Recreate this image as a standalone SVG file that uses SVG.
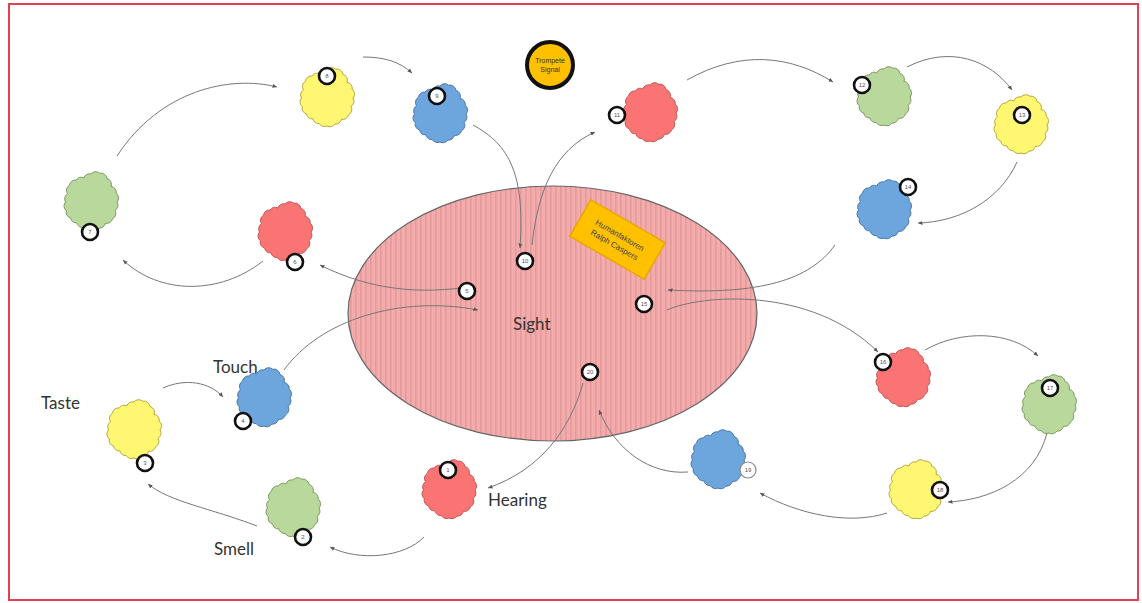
<svg xmlns="http://www.w3.org/2000/svg" width="1142" height="603" viewBox="0 0 1142 603">
<style>
.conn{fill:none;stroke:#777;stroke-width:1}
.badge{fill:#fff;stroke:#111;stroke-width:2.6}
.bt{font-family:"Liberation Sans",Arial,sans-serif;font-size:6px;fill:#555;text-anchor:middle}
.lbl{font-family:Lato,"Open Sans",sans-serif;font-size:17px;fill:#333}
.red{fill:#fa7474;stroke:#c05858;stroke-width:1}
.green{fill:#b8d99b;stroke:#7d9a62;stroke-width:1}
.yellow{fill:#fff672;stroke:#b5a83a;stroke-width:1}
.blue{fill:#6ca6dc;stroke:#4b78a6;stroke-width:1}
</style>
<defs>
<path id="cloud" d="M26,0 A6,6 0 0 1 24,8.4 A6,6 0 0 1 21.5,16.8 A6,6 0 0 1 14.4,21.3 A6,6 0 0 1 7.9,26.1 A6,6 0 0 1 0,28 A6,6 0 0 1 -7.7,25.6 A6,6 0 0 1 -14.1,20.8 A6,6 0 0 1 -20.4,16 A6,6 0 0 1 -24.7,8.7 A6,6 0 0 1 -25.5,0 A6,6 0 0 1 -23.5,-8.2 A6,6 0 0 1 -21.5,-16.8 A6,6 0 0 1 -14.8,-22 A6,6 0 0 1 -7.2,-24 A6,6 0 0 1 0,-28 A6,6 0 0 1 8.7,-28.8 A6,6 0 0 1 15.9,-23.6 A6,6 0 0 1 20,-15.6 A6,6 0 0 1 25.2,-8.8 A6,6 0 0 1 26,0 Z"/>
<pattern id="stripes" width="5" height="10" patternUnits="userSpaceOnUse">
<rect width="5" height="10" fill="#f4abab"/>
<rect width="1.6" height="10" fill="#e49a9a"/>
</pattern>
<marker id="arr" markerWidth="5" markerHeight="5" refX="4.5" refY="2.5" orient="auto" markerUnits="userSpaceOnUse">
<path d="M0,0.5 L4.5,2.5 L0,4.5 Z" fill="#555"/>
</marker>
</defs>
<rect x="9" y="4" width="1129" height="596" fill="#fff" stroke="#e04050" stroke-width="2"/>

<g id="sight">
<ellipse cx="552.5" cy="313.5" rx="204.5" ry="127.5" fill="url(#stripes)" stroke="#666" stroke-width="1.2"/>
<text class="lbl" x="513" y="330">Sight</text>
</g>

<g id="note">
<g transform="translate(617.5,239.5) rotate(30)">
<rect x="-43" y="-21" width="86" height="42" fill="#ffc000" stroke="#e6a800" stroke-width="1.5"/>
<text x="0" y="-2" font-family="'Liberation Sans',Arial,sans-serif" font-size="8" fill="#444" text-anchor="middle">Humanfaktoren</text>
<text x="0" y="9" font-family="'Liberation Sans',Arial,sans-serif" font-size="8" fill="#444" text-anchor="middle">Ralph Caspers</text>
</g>
</g>

<g id="signal">
<circle cx="550" cy="65" r="23" fill="#ffc000" stroke="#111" stroke-width="4"/>
<text x="550" y="63" font-family="'Liberation Sans',Arial,sans-serif" font-size="7" fill="#333" text-anchor="middle">Trompete</text>
<text x="550" y="72" font-family="'Liberation Sans',Arial,sans-serif" font-size="7" fill="#333" text-anchor="middle">Signal</text>
</g>

<g id="connectors">
<path class="conn" marker-end="url(#arr)" d="M583,383 C570,430 540,470 488,488"/>
<path class="conn" marker-end="url(#arr)" d="M424,537 C405,557 360,562 330,547"/>
<path class="conn" marker-end="url(#arr)" d="M257,526 C210,508 170,502 148,484"/>
<path class="conn" marker-end="url(#arr)" d="M163,388 C185,378 210,382 223,397"/>
<path class="conn" marker-end="url(#arr)" d="M284,370 C320,320 400,295 478,310"/>
<path class="conn" marker-end="url(#arr)" d="M475,286 C420,295 370,290 320,265"/>
<path class="conn" marker-end="url(#arr)" d="M263,261 C220,295 160,295 123,260"/>
<path class="conn" marker-end="url(#arr)" d="M117,156 C160,90 230,75 277,87"/>
<path class="conn" marker-end="url(#arr)" d="M363,57 C385,57 400,62 412,73"/>
<path class="conn" marker-end="url(#arr)" d="M473,125 C510,145 525,175 520,248"/>
<path class="conn" marker-end="url(#arr)" d="M532,245 C538,190 555,150 595,132"/>
<path class="conn" marker-end="url(#arr)" d="M687,80 C740,50 790,55 833,82"/>
<path class="conn" marker-end="url(#arr)" d="M907,67 C950,45 990,60 1012,90"/>
<path class="conn" marker-end="url(#arr)" d="M1017,162 C1000,200 960,222 918,223"/>
<path class="conn" marker-end="url(#arr)" d="M835,245 C810,280 760,295 668,290"/>
<path class="conn" marker-end="url(#arr)" d="M667,310 C700,295 810,285 878,352"/>
<path class="conn" marker-end="url(#arr)" d="M925,350 C960,330 1010,330 1038,356"/>
<path class="conn" marker-end="url(#arr)" d="M1047,433 C1035,480 990,500 948,502"/>
<path class="conn" marker-end="url(#arr)" d="M887,513 C850,525 800,515 760,493"/>
<path class="conn" marker-end="url(#arr)" d="M688,472 C650,475 615,450 599,410"/>
</g>

<g id="n1"><use href="#cloud" class="red" transform="translate(449,490)"/><circle class="badge" cx="448" cy="470" r="8"/><text class="bt" x="448" y="472">1</text><text class="lbl" x="488" y="506">Hearing</text></g>
<g id="n2"><use href="#cloud" class="green" transform="translate(293,508)"/><circle class="badge" cx="303" cy="537" r="8"/><text class="bt" x="303" y="539">2</text><text class="lbl" x="214" y="555">Smell</text></g>
<g id="n3"><use href="#cloud" class="yellow" transform="translate(134,430)"/><circle class="badge" cx="145" cy="463" r="8"/><text class="bt" x="145" y="465">3</text><text class="lbl" x="41" y="409">Taste</text></g>
<g id="n4"><use href="#cloud" class="blue" transform="translate(264,398)"/><circle class="badge" cx="243" cy="421" r="8"/><text class="bt" x="243" y="423">4</text><text class="lbl" x="213" y="373">Touch</text></g>
<g id="n5"><circle class="badge" cx="467" cy="291" r="8"/><text class="bt" x="467" y="293">5</text></g>
<g id="n6"><use href="#cloud" class="red" transform="translate(285,232)"/><circle class="badge" cx="295" cy="262" r="8"/><text class="bt" x="295" y="264">6</text></g>
<g id="n7"><use href="#cloud" class="green" transform="translate(91,202)"/><circle class="badge" cx="90" cy="232" r="8"/><text class="bt" x="90" y="234">7</text></g>
<g id="n8"><use href="#cloud" class="yellow" transform="translate(327,98)"/><circle class="badge" cx="327" cy="76" r="8"/><text class="bt" x="327" y="78">8</text></g>
<g id="n9"><use href="#cloud" class="blue" transform="translate(440,114)"/><circle class="badge" cx="437" cy="96" r="8"/><text class="bt" x="437" y="98">9</text></g>
<g id="n10"><circle class="badge" cx="525" cy="261" r="8"/><text class="bt" x="525" y="263">10</text></g>
<g id="n11"><use href="#cloud" class="red" transform="translate(650,113)"/><circle class="badge" cx="617" cy="115" r="8"/><text class="bt" x="617" y="117">11</text></g>
<g id="n12"><use href="#cloud" class="green" transform="translate(884,97)"/><circle class="badge" cx="862" cy="85" r="8"/><text class="bt" x="862" y="87">12</text></g>
<g id="n13"><use href="#cloud" class="yellow" transform="translate(1021,125)"/><circle class="badge" cx="1022" cy="115" r="8"/><text class="bt" x="1022" y="117">13</text></g>
<g id="n14"><use href="#cloud" class="blue" transform="translate(884,210)"/><circle class="badge" cx="908" cy="187" r="8"/><text class="bt" x="908" y="189">14</text></g>
<g id="n15"><circle class="badge" cx="644" cy="304" r="8"/><text class="bt" x="644" y="306">15</text></g>
<g id="n16"><use href="#cloud" class="red" transform="translate(903,378)"/><circle class="badge" cx="883" cy="362" r="8"/><text class="bt" x="883" y="364">16</text></g>
<g id="n17"><use href="#cloud" class="green" transform="translate(1049,405)"/><circle class="badge" cx="1050" cy="388" r="8"/><text class="bt" x="1050" y="390">17</text></g>
<g id="n18"><use href="#cloud" class="yellow" transform="translate(916,490)"/><circle class="badge" cx="940" cy="490" r="8"/><text class="bt" x="940" y="492">18</text></g>
<g id="n19"><use href="#cloud" class="blue" transform="translate(718,460)"/><circle cx="748" cy="470" r="8" fill="#fff" stroke="#888" stroke-width="1.2"/><text class="bt" x="748" y="472">19</text></g>
<g id="n20"><circle class="badge" cx="590" cy="372" r="8"/><text class="bt" x="590" y="374">20</text></g>
</svg>
